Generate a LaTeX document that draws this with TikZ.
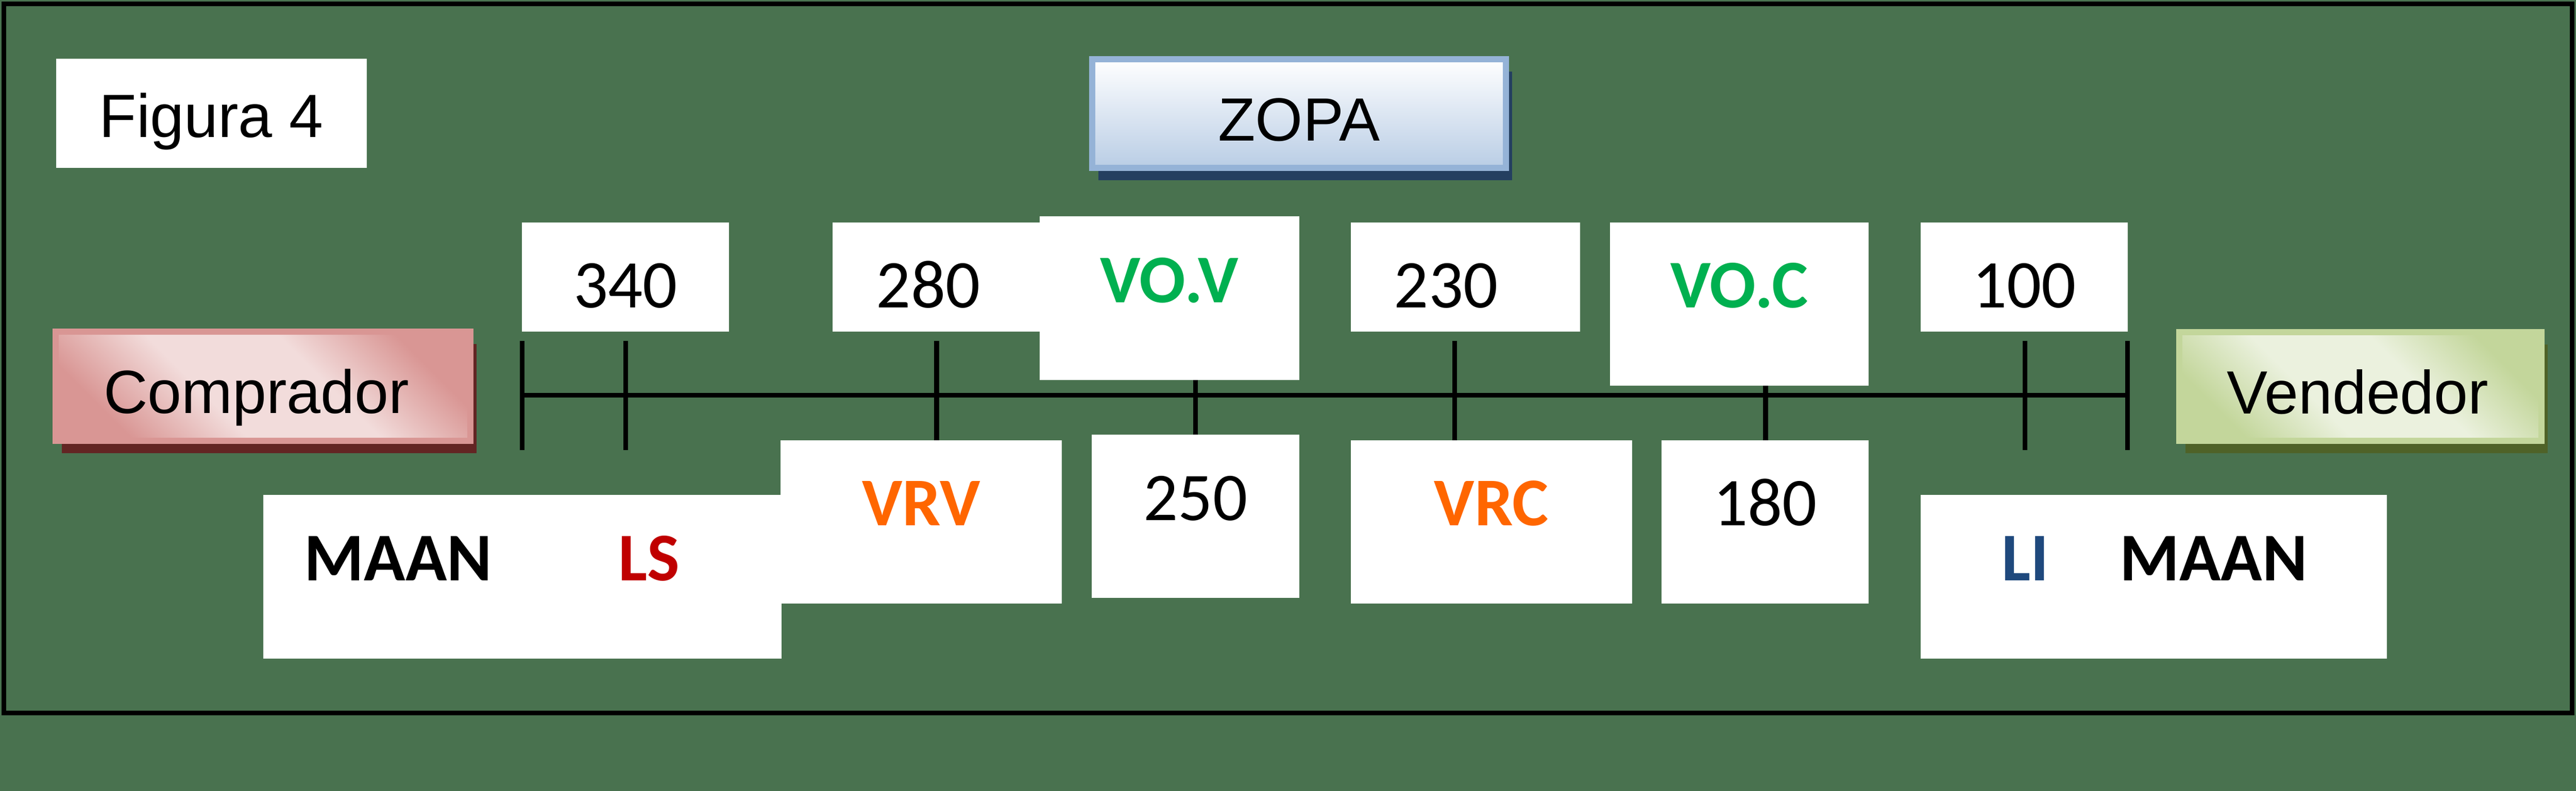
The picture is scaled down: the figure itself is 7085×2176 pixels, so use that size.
\documentclass[tikz,border=0pt]{standalone}
\usepackage{fontspec}
\setmainfont{Carlito}
\newfontfamily\arialf{Liberation Sans}
\usetikzlibrary{shadows}

\definecolor{bggreen}{HTML}{49724F}
\definecolor{vogreen}{HTML}{00B050}
\definecolor{vrorange}{HTML}{FF6600}
\definecolor{lsred}{HTML}{C00000}
\definecolor{liblue}{HTML}{1F497D}
\definecolor{zopaline}{HTML}{95B3D7}
\definecolor{zopabot}{HTML}{B9CDE5}
\definecolor{zopashadow}{HTML}{243F60}
\definecolor{compdark}{HTML}{D99694}
\definecolor{complight}{HTML}{F2DCDB}
\definecolor{compshadow}{HTML}{632523}
\definecolor{venddark}{HTML}{C3D69B}
\definecolor{vendlight}{HTML}{EBF1DE}
\definecolor{vendshadow}{HTML}{4F6228}

\pgfdeclareverticalshading{compshade}{100bp}{color(0bp)=(compdark); color(25bp)=(compdark);
  color(41bp)=(complight); color(59bp)=(complight); color(75bp)=(compdark); color(100bp)=(compdark)}
\pgfdeclareverticalshading{vendshade}{100bp}{color(0bp)=(venddark); color(25bp)=(venddark);
  color(41bp)=(vendlight); color(59bp)=(vendlight); color(75bp)=(venddark); color(100bp)=(venddark)}

\tikzset{
  wbox/.style={fill=white, inner sep=0pt, outer sep=0pt, anchor=north west,
    font=\fontsize{18.8}{22}\selectfont},
  nbox/.style={wbox, text height=23.5pt, text depth=6.5pt},
  lbox/.style={wbox, text height=23.5pt, text depth=21.5pt,
    font=\fontsize{18.8}{22}\selectfont\bfseries},
  lbl/.style={inner sep=0pt, anchor=base, font=\fontsize{18.8}{22}\selectfont\bfseries},
  cbox/.style={inner sep=0pt, outer sep=0pt, anchor=north west, line width=1.7pt,
    text height=22.45pt, text depth=7.55pt, font=\arialf\fontsize{16.8}{20}\selectfont},
}

\begin{document}
\begin{tikzpicture}[x=0.1pt, y=-0.1pt]
  \useasboundingbox (0,0) rectangle (7085,2176);
  \fill[bggreen] (0,0) rectangle (7085,2176);
  \draw[line width=1.3pt] (11,11) rectangle (7074,1962);

  % axis
  \coordinate (axl) at (1436,1088);
  \coordinate (axr) at (5852,1088);
  \draw[line width=1.3pt] (axl) -- (axr);
  \foreach \x in {1436,1721,2576,3288,4001,4856,5569,5852}
    \draw[line width=1.3pt] (\x,938) -- (\x,1238);

  % title boxes
  \node[wbox, minimum width=85.5pt, text height=21.6pt, text depth=8.4pt,
    font=\arialf\fontsize{16.8}{20}\selectfont] (fig) at (154,162) {Figura 4};
  \node[cbox, draw=zopaline, top color=white, bottom color=zopabot, minimum width=113.9pt,
    drop shadow={shadow xshift=1.7pt, shadow yshift=-3.4pt, opacity=1, fill=zopashadow}]
    (zopa) at (3003.5,162.5) {ZOPA};
  \node[cbox, draw=compdark, shading=compshade, shading angle=-45, minimum width=114pt,
    drop shadow={shadow xshift=1.7pt, shadow yshift=-3.4pt, opacity=1, fill=compshadow}]
    (comp) at (153.5,912.5) {Comprador\hspace*{3.7pt}};
  \node[cbox, draw=venddark, shading=vendshade, shading angle=-45, minimum width=99.6pt,
    drop shadow={shadow xshift=1.7pt, shadow yshift=-3.4pt, opacity=1, fill=vendshadow}]
    (vend) at (5994.5,913.5) {Vendedor\hspace*{1.5pt}};

  % top row
  \node[nbox, minimum width=56.9pt] (n340) at (1436,612) {340};
  \node[nbox, minimum width=57pt] (n280) at (2290,612) {280\hspace*{4.4pt}};
  \node[lbox, minimum width=71.3pt, text height=23.7pt, text depth=21.4pt, text=vogreen]
    (vov) at (2860,595) {VO.V};
  \node[nbox, minimum width=63.1pt] (n230) at (3715,612) {230\hspace*{10.7pt}};
  \node[lbox, minimum width=71.2pt, text=vogreen] (voc) at (4428,612) {VO.C};
  \node[nbox, minimum width=56.9pt] (n100) at (5283,612) {100};

  % bottom row
  \node[wbox, minimum width=142.6pt, minimum height=45.1pt] (maanl) at (724,1362) {};
  \node[lbl] (maanl-a) at (1095,1597) {MAAN};
  \node[lbl, text=lsred] (maanl-b) at (1785,1597) {LS};
  \node[lbox, minimum width=77.4pt, text=vrorange] (vrv) at (2147,1211) {VRV};
  \node[nbox, minimum width=57pt, text height=23.6pt, text depth=21.3pt] (n250) at (3003,1196) {250};
  \node[lbox, minimum width=77.4pt, text=vrorange] (vrc) at (3715,1211) {VRC};
  \node[nbox, minimum width=57pt, text depth=21.5pt] (n180) at (4570,1211) {180};
  \node[wbox, minimum width=128.2pt, minimum height=45.1pt] (maanr) at (5283,1362) {};
  \node[lbl, text=liblue] (maanr-a) at (5570,1597) {LI};
  \node[lbl] (maanr-b) at (6088,1597) {MAAN};
\end{tikzpicture}
\end{document}
